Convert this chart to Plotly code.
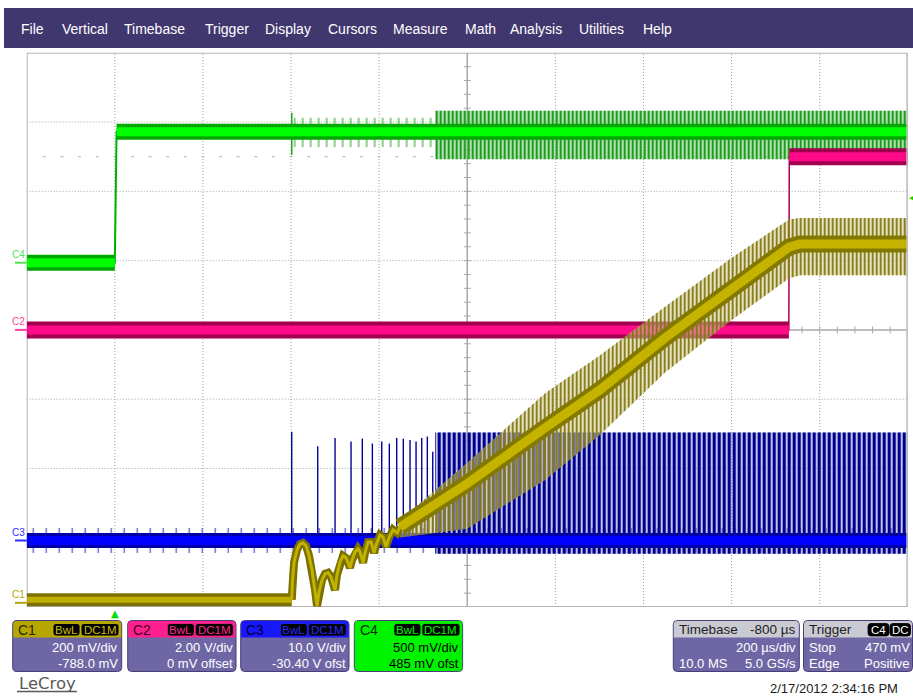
import plotly.graph_objects as go

# ---------------------------------------------------------------- screen layout
W, H = 913, 696
GX0, GX1, GY0, GY1 = 26.7, 907.8, 52.8, 607.0      # graticule edges (px)

# ---------------------------------------------------------------- acquisition setup
T_START, T_PER_DIV = -200.0, 200.0                  # µs (trigger at 0, delay -800 µs)
X_DIVS, Y_DIVS = 10, 8
VSET = {                                            # (V/div, offset V)
    "C1": (0.2, -0.788),
    "C2": (2.0, 0.0),
    "C3": (10.0, -30.4),
    "C4": (0.5, 0.485),
}
AXIS = {"C3": "y2", "C4": "y3", "C2": "y4", "C1": "y5"}   # draw order: C3, C4, C2, C1

# ---------------------------------------------------------------- waveforms (µs, V)
# C4 - enable input
c4_t = [-200, 0, 4, 1800]
c4_v = [0.0, 0.0, 0.946, 0.946]
c4_fuzz_t = [400, 727]
c4_fuzz_hi = [0.10, 0.10]
c4_fuzz_lo = [0.11, 0.11]
c4_burst_t = [727, 1800]
c4_burst_hi = [0.15, 0.15]
c4_burst_lo = [0.20, 0.20]
c4_glitch_t = [401.6, 401.6]
c4_glitch_v = [0.778, 1.083]

# C2 - power-good output
c2_t = [-200, 1530, 1531, 1800]
c2_v = [0.0, 0.0, 5.0, 5.0]

# C3 - switch node
c3_t = [-200, 1800]
c3_v = [0.0, 0.0]
c3_fuzz = [1.8, 1.8]
c3_spike_t = [401.6, 460.6, 499.9, 536.2, 561.8, 584.6, 605.9, 623.1,
              639.9, 654.9, 670.1, 683.8, 696.7, 709.4, 721.7]
c3_spike_v = [15.7, 13.6, 14.8, 14.3, 14.7, 14.0, 14.3, 14.0,
              14.8, 14.7, 14.5, 14.3, 14.8, 15.0, 12.8]
c3_burst_t = [727, 1800]
c3_burst_hi = [15.6, 15.6]
c3_burst_lo = [1.9, 1.9]

# C1 - soft-start output
c1_base_t = [-200, 401.6]
c1_base_v = [0.009, 0.009]
c1_arch_t = [401.6, 403.4, 406.8, 413.6, 420.4, 427.2, 434.0, 440.9, 447.7, 454.5,
             459.0, 463.6, 470.4, 477.2, 484.0, 490.8, 499.9, 504.4, 511.2, 518.0,
             524.9, 534.0, 538.5, 545.3, 552.1, 556.7, 563.5, 568.0, 574.8, 581.6,
             588.5, 593.0, 602.1, 608.9, 615.7, 622.5, 631.6, 640.7, 647.5]
c1_arch_v = [0.009, 0.066, 0.116, 0.153, 0.170, 0.173, 0.165, 0.136, 0.095, 0.037,
             -0.009, 0.032, 0.066, 0.084, 0.087, 0.075, 0.037, 0.081, 0.118, 0.136,
             0.130, 0.101, 0.124, 0.147, 0.156, 0.147, 0.116, 0.144, 0.176, 0.176,
             0.144, 0.167, 0.196, 0.190, 0.162, 0.188, 0.211, 0.202, 0.219]
c1_ramp_t = [647.5, 799.5, 976.6, 1101.4, 1249.0, 1396.5, 1530.4, 1555.4, 1800]
c1_ramp_v = [0.219, 0.344, 0.505, 0.615, 0.765, 0.903, 1.027, 1.036, 1.036]
c1_rip_hi = [0.02, 0.06, 0.10, 0.10, 0.09, 0.09, 0.08, 0.075, 0.075]
c1_rip_lo = [0.03, 0.13, 0.15, 0.13, 0.10, 0.09, 0.09, 0.09, 0.09]

# ---------------------------------------------------------------- helpers
def vrange(ch):
    vdiv, ofs = VSET[ch]
    c = -ofs
    return [c - Y_DIVS / 2 * vdiv, c + Y_DIVS / 2 * vdiv]


def volt_px(ch, v):
    lo, hi = vrange(ch)
    return GY1 - (v - lo) / (hi - lo) * (GY1 - GY0)


fig = go.Figure()


def trace_line(ch, t, v, color, width):
    fig.add_trace(go.Scatter(x=t, y=v, mode="lines", yaxis=AXIS[ch],
                             line=dict(color=color, width=width),
                             hoverinfo="skip", showlegend=False))


def trace_env(ch, t, mid, hi, lo, bg, fg, size, solidity):
    """Persistence envelope: a translucent wash plus vertical hatch lines."""
    up = [m + h for m, h in zip(mid, hi)]
    dn = [m - l for m, l in zip(mid, lo)]
    xs = list(t) + list(t)[::-1]
    ys = up + dn[::-1]
    if bg:
        fig.add_trace(go.Scatter(x=xs, y=ys, yaxis=AXIS[ch], mode="lines",
                                 line=dict(width=0, color=bg), fill="toself", fillcolor=bg,
                                 hoverinfo="skip", showlegend=False))
    fig.add_trace(go.Scatter(
        x=xs, y=ys, yaxis=AXIS[ch], mode="lines", line=dict(width=0, color=fg),
        fill="toself", fillcolor=fg,
        fillpattern=dict(shape="|", fgcolor=fg, bgcolor="rgba(0,0,0,0)",
                         size=size, solidity=solidity, fgopacity=1),
        hoverinfo="skip", showlegend=False))


def level_runs(t, v):
    return [([t[i], t[i + 1]], [v[i], v[i + 1]])
            for i in range(len(t) - 1) if v[i] == v[i + 1]]


# base subplot (graticule)
fig.add_trace(go.Scatter(x=[], y=[], xaxis="x", yaxis="y", showlegend=False))

# ---- C3 (blue)
trace_env("C3", c3_t, c3_v, c3_fuzz, c3_fuzz, None, "#5A5AC8", 13, 0.1)
trace_env("C3", c3_burst_t, [0.0, 0.0], c3_burst_hi, c3_burst_lo,
          "rgba(120,120,200,0.45)", "#000090", 5, 0.6)
sx, sy = [], []
for t, v in zip(c3_spike_t, c3_spike_v):
    sx += [t, t, None]
    sy += [0.0, v, None]
trace_line("C3", sx, sy, "#00009C", 1.4)
trace_line("C3", c3_t, c3_v, "#0000A6", 15)
trace_line("C3", c3_t, c3_v, "#0000FF", 9)

# ---- C4 (green)
c4_hi_level = c4_v[-1]
trace_env("C4", c4_fuzz_t, [c4_hi_level] * len(c4_fuzz_t), c4_fuzz_hi, c4_fuzz_lo,
          None, "#5CBE5C", 8, 0.18)
trace_env("C4", c4_burst_t, [c4_hi_level] * len(c4_burst_t), c4_burst_hi, c4_burst_lo,
          "rgba(140,210,140,0.5)", "#1E9E1E", 4, 0.55)
trace_line("C4", c4_glitch_t, c4_glitch_v, "#1FA51F", 1.5)
trace_line("C4", c4_t, c4_v, "#00B000", 2)
for rt, rv in level_runs(c4_t, c4_v):
    trace_line("C4", rt, rv, "#00A800", 16)
    trace_line("C4", rt, rv, "#00FF00", 9)

# ---- C2 (pink)
trace_line("C2", c2_t, c2_v, "#A3004F", 1.5)
for rt, rv in level_runs(c2_t, c2_v):
    trace_line("C2", rt, rv, "#A3004F", 17)
    trace_line("C2", rt, rv, "#FF0A88", 9)

# ---- C1 (olive)
trace_env("C1", c1_ramp_t, c1_ramp_v, c1_rip_hi, c1_rip_lo,
          "rgba(214,207,148,0.55)", "#7F7410", 4, 0.45)
trace_line("C1", c1_base_t, c1_base_v, "#7C7100", 13)
trace_line("C1", c1_arch_t, c1_arch_v, "#7C7100", 8)
trace_line("C1", c1_ramp_t, c1_ramp_v, "#847900", 17)
trace_line("C1", c1_base_t, c1_base_v, "#BFAF00", 6)
trace_line("C1", c1_arch_t, c1_arch_v, "#C2B200", 3)
trace_line("C1", c1_ramp_t, c1_ramp_v, "#C4B400", 9)

fig.add_trace(go.Scatter(x=[], y=[], xaxis="x2", yaxis="y6", showlegend=False))

# ---------------------------------------------------------------- graticule
shapes = []
t_end = T_START + X_DIVS * T_PER_DIV
ymax = Y_DIVS / 2
for k in range(1, X_DIVS):
    t = T_START + k * T_PER_DIV
    centre = k == X_DIVS // 2
    shapes.append(dict(type="line", xref="x", yref="y", x0=t, x1=t, y0=-ymax, y1=ymax,
                       layer="below",
                       line=dict(color="#A8A8A8" if centre else "#A4A4A4",
                                 width=1.5 if centre else 1,
                                 dash="solid" if centre else "1px,2px")))
for j in range(-int(ymax) + 1, int(ymax)):
    centre = j == 0
    shapes.append(dict(type="line", xref="x", yref="y", x0=T_START, x1=t_end, y0=j, y1=j,
                       layer="below",
                       line=dict(color="#A8A8A8" if centre else "#A4A4A4",
                                 width=1.5 if centre else 1,
                                 dash="solid" if centre else "1px,2px")))
# minor ticks on the centre cross (5 per division)
t_mid = T_START + X_DIVS / 2 * T_PER_DIV
half_t = 3.5 * (X_DIVS * T_PER_DIV) / (GX1 - GX0)
half_y = 3.5 * Y_DIVS / (GY1 - GY0)
for m in range(-int(ymax) * 5 + 1, int(ymax) * 5):
    shapes.append(dict(type="line", xref="x", yref="y", x0=t_mid - half_t, x1=t_mid + half_t,
                       y0=m / 5, y1=m / 5, layer="below",
                       line=dict(color="#A8A8A8", width=1)))
for m in range(1, X_DIVS * 5):
    t = T_START + m * T_PER_DIV / 5
    shapes.append(dict(type="line", xref="x", yref="y", x0=t, x1=t,
                       y0=-half_y, y1=half_y, layer="below",
                       line=dict(color="#A8A8A8", width=1)))
# faint tick row at +2.5 div
shapes.append(dict(type="line", xref="x", yref="y",
                   x0=T_START + T_PER_DIV / 5 - 1.5 * half_t / 3.5, x1=t_end, y0=2.5, y1=2.5,
                   layer="below", line=dict(color="#B0B0B0", width=1, dash="3px,14.62px")))
# frame
shapes.append(dict(type="rect", xref="x", yref="y", x0=T_START, x1=t_end, y0=-ymax, y1=ymax,
                   layer="below", line=dict(color="#B4B4B4", width=2)))
shapes.append(dict(type="line", xref="x", yref="y", x0=t_end, x1=t_end, y0=-ymax, y1=ymax,
                   layer="above", line=dict(color="#C4C4C4", width=3)))


# ---------------------------------------------------------------- screen furniture (px)
def px_rect(x0, y0, x1, y1, fill, line="rgba(0,0,0,0)", lw=0):
    shapes.append(dict(type="rect", xref="x2", yref="y6", x0=x0, x1=x1, y0=y0, y1=y1,
                       fillcolor=fill, line=dict(color=line, width=lw), layer="above"))


def px_path(path, fill, line="rgba(0,0,0,0)", lw=0):
    shapes.append(dict(type="path", xref="x2", yref="y6", path=path,
                       fillcolor=fill, line=dict(color=line, width=lw), layer="above"))


def rrect(x0, y0, x1, y1, r):
    return (f"M{x0 + r},{y0} L{x1 - r},{y0} Q{x1},{y0} {x1},{y0 + r} L{x1},{y1 - r} "
            f"Q{x1},{y1} {x1 - r},{y1} L{x0 + r},{y1} Q{x0},{y1} {x0},{y1 - r} "
            f"L{x0},{y0 + r} Q{x0},{y0} {x0 + r},{y0} Z")


def top_rrect(x0, y0, x1, y1, r):
    return (f"M{x0},{y1} L{x0},{y0 + r} Q{x0},{y0} {x0 + r},{y0} L{x1 - r},{y0} "
            f"Q{x1},{y0} {x1},{y0 + r} L{x1},{y1} Z")


annotations = []
FONT = "Liberation Sans, Arial, sans-serif"


def label(x, y, text, size=13, color="white", anchor="left", family=FONT, xref="x2", yref="y6"):
    annotations.append(dict(x=x, y=y, xref=xref, yref=yref, text=text, showarrow=False,
                            xanchor=anchor, yanchor="middle",
                            font=dict(family=family, size=size, color=color)))


# menu bar
px_rect(4, 8, W, 48, "#41376F")
menu = [("File", 19), ("Vertical", 60), ("Timebase", 122), ("Trigger", 203),
        ("Display", 263), ("Cursors", 326), ("Measure", 391), ("Math", 463),
        ("Analysis", 508), ("Utilities", 577), ("Help", 641)]
for name, x in menu:
    label(x, 29, name, size=14)

# channel descriptor boxes
BODY, EDGE = "#6F67A5", "#463F76"
BOX_T, BOX_HEAD, BOX_B = 620.5, 637.5, 671.5
ROW1, ROW2, ROW3 = 629.5, 647.5, 663.5
ch_boxes = [
    ("C1", 12.7, 121.7, "#B5A700", "#2A2600", "#CDBE00", BODY, "white",
     "200 mV/div", "-788.0 mV"),
    ("C2", 127.7, 236.0, "#FF1F8F", "#3C0020", "#FF2A92", BODY, "white",
     "2.00 V/div", "0 mV offset"),
    ("C3", 240.7, 349.0, "#1818FF", "#00002A", "#2A2AFF", BODY, "white",
     "10.0 V/div", "-30.40 V ofst"),
    ("C4", 354.3, 462.6, "#00F400", "#002800", "#00F400", "#00F400", "black",
     "500 mV/div", "485 mV ofst"),
]
for name, x0, x1, head, ncol, bcol, body, tcol, r2, r3 in ch_boxes:
    px_path(rrect(x0, BOX_T, x1, BOX_B, 4), body, EDGE, 1)
    px_path(top_rrect(x0 + 0.5, BOX_T + 0.5, x1 - 0.5, BOX_HEAD, 3.5), head)
    label(x0 + 3.5, ROW1, name, size=14, color=ncol)
    for bx0, bx1, btxt in ((x1 - 68.7, x1 - 41.7, "BwL"), (x1 - 40.7, x1 - 2.7, "DC1M")):
        px_path(rrect(bx0, 623.5, bx1, 636.0, 3), "#000000", bcol, 0.8)
        label((bx0 + bx1) / 2, 630, btxt, size=11.5, color=bcol, anchor="center")
    label(x1 - 1.5, ROW2, r2, size=13, color=tcol, anchor="right")
    label(x1 - 1.5, ROW3, r3, size=13, color=tcol, anchor="right")

# timebase box
tb0, tb1 = 673.3, 799.3
px_path(rrect(tb0, BOX_T, tb1, BOX_B, 4), BODY, EDGE, 1)
px_path(top_rrect(tb0 + 0.5, BOX_T + 0.5, tb1 - 0.5, BOX_HEAD, 3.5), "#CACAD3")
label(tb0 + 3.5, ROW1, "Timebase", size=13.5, color="#1E1E1E")
label(tb1 - 1.5, ROW1, "-800 µs", size=13.5, color="#1E1E1E", anchor="right")
label(tb1 - 1.5, ROW2, "200 µs/div", anchor="right")
label(tb0 + 3.5, ROW3, "10.0 MS")
label(tb1 - 1.5, ROW3, "5.0 GS/s", anchor="right")

# trigger box
tr0, tr1 = 803.5, 912.5
px_path(rrect(tr0, BOX_T, tr1, BOX_B, 4), BODY, EDGE, 1)
px_path(top_rrect(tr0 + 0.5, BOX_T + 0.5, tr1 - 0.5, BOX_HEAD, 3.5), "#CACAD3")
label(tr0 + 3.5, ROW1, "Trigger", size=13.5, color="#1E1E1E")
for bx0, bx1, btxt in ((868.0, 889.0, "C4"), (890.0, 910.5, "DC")):
    px_path(rrect(bx0, 623.5, bx1, 636.0, 3), "#000000", "#000000", 0.8)
    label((bx0 + bx1) / 2, 630, btxt, size=11.5, color="white", anchor="center")
label(tr0 + 3.5, ROW2, "Stop")
label(tr1 - 0.5, ROW2, "470 mV", anchor="right")
label(tr0 + 3.5, ROW3, "Edge")
label(tr1 - 0.5, ROW3, "Positive", anchor="right")

# date stamp and logo
label(833.5, 688.5, "2/17/2012 2:34:16 PM", size=13, color="#1A1A1A", anchor="center")
label(16.5, 683.5, "LeCroy", size=16.5, color="#5A5A5A", family="DejaVu Sans, sans-serif")
shapes.append(dict(type="line", xref="x2", yref="y6", x0=17, x1=77, y0=691.5, y1=691.5,
                   layer="above", line=dict(color="#5A5A5A", width=1.5)))

# ground-level markers for each channel
marker_col = {"C4": "#55E055", "C2": "#FF3FA0", "C3": "#2E2EFF", "C1": "#B5A700"}
for ch in ("C4", "C2", "C3", "C1"):
    y0 = volt_px(ch, 0.0)
    label(18.7, y0 - 8.5, ch, size=10, color=marker_col[ch], anchor="center")
    shapes.append(dict(type="line", xref="x2", yref="y6", x0=15, x1=GX0, y0=y0, y1=y0,
                       layer="above", line=dict(color=marker_col[ch], width=2)))

# trigger position and level markers
annotations.append(dict(x=0, y=613.5, xref="x", yref="y6", text="▲", showarrow=False,
                        xanchor="center", yanchor="middle",
                        font=dict(family="DejaVu Sans", size=10, color="#00DD00")))
label(911.5, volt_px("C4", 0.47), "◀", size=7, color="#00D800", anchor="center",
      family="DejaVu Sans")

# ---------------------------------------------------------------- axes & layout
hidden = dict(visible=False, showgrid=False, zeroline=False, fixedrange=True)
layout_axes = dict(
    xaxis=dict(domain=[GX0 / W, GX1 / W], range=[T_START, t_end], anchor="y", **hidden),
    yaxis=dict(domain=[1 - GY1 / H, 1 - GY0 / H], range=[-ymax, ymax], anchor="x", **hidden),
    xaxis2=dict(domain=[0, 1], range=[0, W], anchor="y6", **hidden),
    yaxis6=dict(domain=[0, 1], range=[H, 0], anchor="x2", **hidden),
)
for ch, ax in AXIS.items():
    layout_axes["yaxis" + ax[1:]] = dict(overlaying="y", range=vrange(ch), anchor="x", **hidden)

fig.update_layout(
    width=W, height=H, autosize=False,
    margin=dict(l=0, r=0, t=0, b=0, pad=0),
    paper_bgcolor="white", plot_bgcolor="rgba(0,0,0,0)",
    showlegend=False, shapes=shapes, annotations=annotations,
    **layout_axes,
)

fig.write_html("out.html")
